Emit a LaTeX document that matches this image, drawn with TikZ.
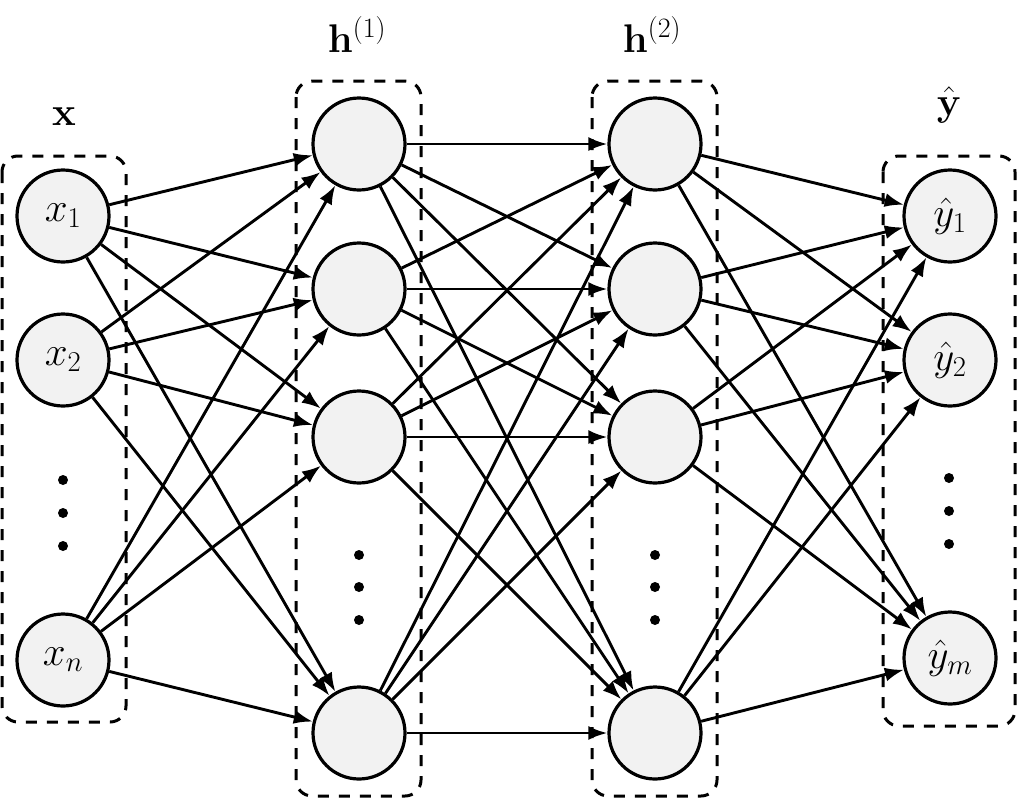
\RequirePackage{fix-cm}
\documentclass[tikz,border=0pt]{standalone}
\usepackage{amsmath}
\usetikzlibrary{arrows.meta}
\begin{document}
\begin{tikzpicture}[x=1pt,y=-1pt,
  neuron/.style={circle,draw=black,line width=3.2pt,fill=black!5,minimum size=92pt,inner sep=0pt,font=\fontsize{41}{48}\selectfont},
  layerbox/.style={draw=black,line width=3pt,dash pattern=on 11pt off 10pt,rounded corners=16pt},
  conn/.style={line width=2.9pt,-{Latex[length=19pt,width=14pt]}},
  lbl/.style={font=\fontsize{40}{46}\selectfont,inner sep=0pt},
  vdot/.style={circle,fill=black,inner sep=0pt,minimum size=10pt}]
\useasboundingbox (0,0) rectangle (1019,798);
% boxes
\draw[layerbox] (2,156) rectangle (126,722);
\draw[layerbox] (296,81) rectangle (421,796);
\draw[layerbox] (592,81) rectangle (717,796);
\draw[layerbox] (883,156) rectangle (1015,726);
% labels
\node[lbl,anchor=base] (lx) at (64,125) {$\mathbf{x}$};
\node[lbl,anchor=base] (lh1) at (357,52) {$\mathbf{h}^{(1)}$};
\node[lbl,anchor=base] (lh2) at (652,52) {$\mathbf{h}^{(2)}$};
\node[lbl,anchor=base] (ly) at (949,115) {$\hat{\mathbf{y}}$};
% input
\node[neuron] (x1) at (63,216) {$x_1$};
\node[neuron] (x2) at (63,360) {$x_2$};
\node[neuron] (xn) at (63,660) {$x_n$};
% hidden 1
\node[neuron] (a1) at (359,144) {};
\node[neuron] (a2) at (359,289) {};
\node[neuron] (a3) at (359,437) {};
\node[neuron] (a4) at (359,733) {};
% hidden 2
\node[neuron] (b1) at (655,144) {};
\node[neuron] (b2) at (655,289) {};
\node[neuron] (b3) at (655,437) {};
\node[neuron] (b4) at (655,733) {};
% output
\node[neuron] (y1) at (950,216) {$\hat{y}_1$};
\node[neuron] (y2) at (950,360) {$\hat{y}_2$};
\node[neuron] (ym) at (950,658) {$\hat{y}_m$};
% dots
\foreach \yy [count=\i] in {480,513,546} {
  \node[vdot] (di\i) at (63,\yy) {};
  \node[vdot] (do\i) at (949,\yy-2) {};
}
\foreach \yy [count=\i] in {555,587,620} {
  \node[vdot] (dh\i) at (359,\yy) {};
  \node[vdot] (dg\i) at (655,\yy) {};
}
% connections
\foreach \s in {x1,x2,xn} \foreach \t in {a1,a2,a3,a4} \draw[conn] (\s) -- (\t);
\foreach \s in {a1,a2,a3,a4} \foreach \t in {b1,b2,b3,b4} \draw[conn] (\s) -- (\t);
\foreach \s in {b1,b2,b3,b4} \foreach \t in {y1,y2,ym} \draw[conn] (\s) -- (\t);
\end{tikzpicture}
\end{document}
